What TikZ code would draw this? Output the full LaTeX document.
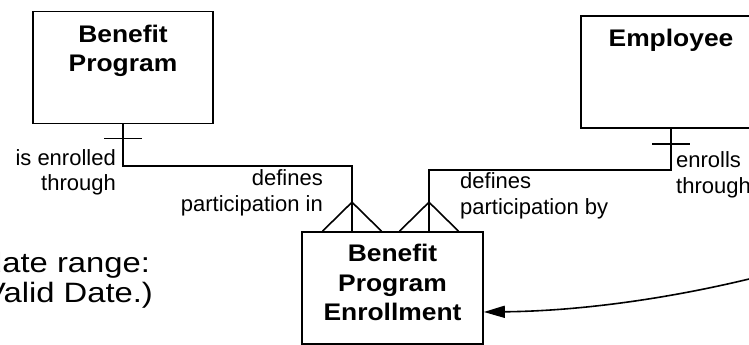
\documentclass[tikz,border=0pt]{standalone}
\usepackage{fontspec}
\setmainfont{Liberation Sans}
\newfontfamily\widefont{Liberation Sans}[FakeStretch=1.1]
\newfontfamily\notefont{Liberation Sans}[FakeStretch=1.17]
\usepackage{tikz}
\usetikzlibrary{arrows.meta,positioning,calc}
% crow's foot (many) and bar (one) at a connector end
\newcommand{\manyend}[1]{\draw[rel] ($(#1)+(-29.5,0)$) -- ($(#1)+(0,-29)$) -- ($(#1)+(29.5,0)$);}
\newcommand{\oneend}[2]{\draw[rel] ($(#1)+(-19,#2)$) -- ++(38,0);}

\begin{document}
\begin{tikzpicture}[
  x=1pt, y=-1pt,
  entity/.style={draw, line width=1.6pt, minimum width=180pt, minimum height=112pt, inner sep=0pt},
  title/.style={font=\widefont\bfseries\fontsize{24}{29.5}\selectfont, align=center, inner sep=0pt},
  role/.style={font=\fontsize{22}{25.5}\selectfont, inner sep=0pt},
  note/.style={font=\notefont\fontsize{28}{30}\selectfont, inner sep=0pt},
  rel/.style={line width=1.6pt},
  arr/.style={line width=1.6pt, -{Triangle[length=21pt,width=12pt]}},
]
  \useasboundingbox (0,0) rectangle (749,345);
  \clip (0,0) rectangle (749,345);

  % Entities
  \node[entity] (bp) at (123,67.5) {};
  \node[title, below=14pt of bp.north] (bptitle) {Benefit\\Program};

  \node[entity] (emp) at (671,72) {};
  \node[title, below=14pt of emp.north] (emptitle) {Employee};

  \node[entity, minimum width=181pt] (bpe) at (392.5,288) {};
  \node[title, below=13pt of bpe.north] (bpetitle) {Benefit\\Program\\Enrollment};

  % Relationships
  \coordinate (bpjoin) at (352,166);
  \coordinate (bpfoot) at (bpjoin |- bpe.north);
  \draw[rel] (bp.south) |- (bpjoin) -- (bpfoot);
  \oneend{bp.south}{14}
  \manyend{bpfoot}

  \coordinate (empjoin) at (429,170);
  \coordinate (empfoot) at (empjoin |- bpe.north);
  \draw[rel] (emp.south) |- (empjoin) -- (empfoot);
  \oneend{emp.south}{15}
  \manyend{empfoot}

  % Role names
  \node[role, align=right, anchor=north east] (bprole) at (116,149.2) {is enrolled\\through};
  \node[role, align=right, anchor=north east] (bperole) at (323,169.7) {defines\\participation in};
  \node[role, align=left, anchor=north west] (eperole) at (460,172.7) {defines\\participation by};
  \node[role, align=left, anchor=north west] (emprole) at (676,151.7) {enrolls\\through};

  % Note
  \node[note, align=left, anchor=north west] (datenote) at (-16,252) {date range:\\Valid Date.)};
  \coordinate (notesrc) at (800,265.7);
  \coordinate (notetip) at ($(bpe.east)+(0,24)$);
  \draw[arr] (notesrc) .. controls (694.7,295.5) and (589.3,310.9) .. (notetip);
\end{tikzpicture}
\end{document}
